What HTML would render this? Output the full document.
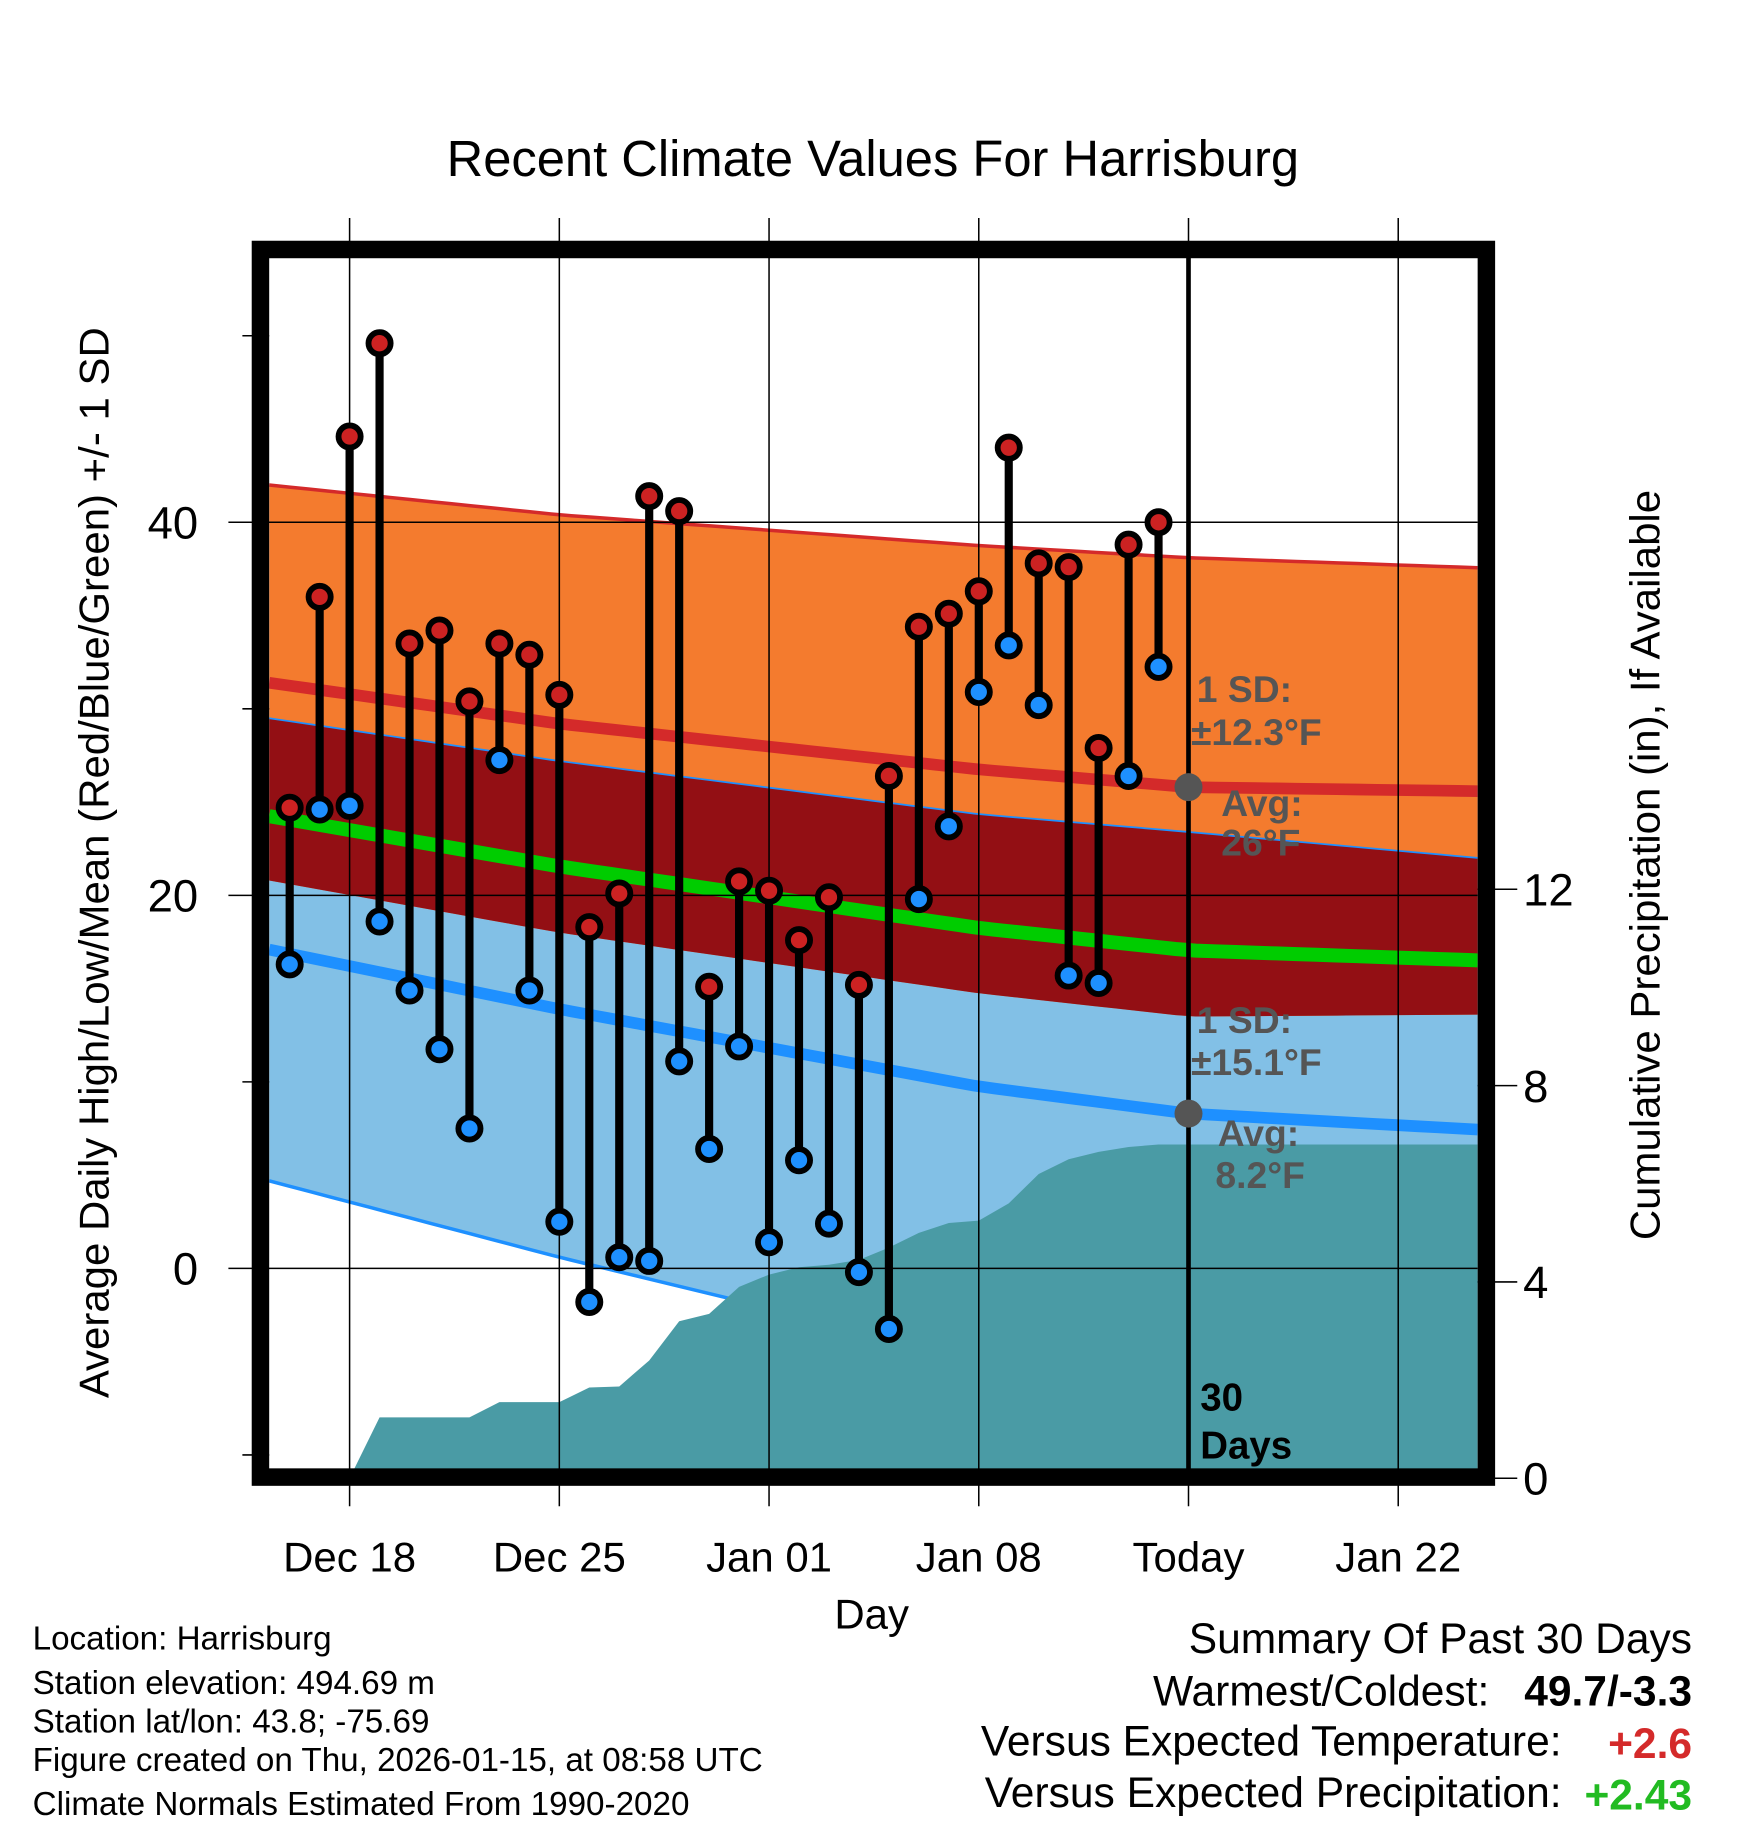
<!DOCTYPE html>
<html><head><meta charset="utf-8"><style>
html,body{margin:0;padding:0;background:#fff;}
svg{display:block;font-family:"Liberation Sans",Arial,sans-serif;}
</style></head><body>
<svg id="chart" width="1748" height="1828" viewBox="0 0 1500 1568" preserveAspectRatio="none" xmlns="http://www.w3.org/2000/svg">
<text x="749" y="151" font-size="43.5" text-anchor="middle">Recent Climate Values For Harrisburg</text>
<g id="layers"></g>
<text transform="translate(93,740) rotate(-90)" font-size="36" text-anchor="middle">Average Daily High/Low/Mean (Red/Blue/Green) +/- 1 SD</text>
<text transform="translate(1424,742) rotate(-90)" font-size="36" text-anchor="middle">Cumulative Precipitation (in), If Available</text>
<text x="748" y="1397" font-size="36" text-anchor="middle">Day</text>
<g font-size="28.5">
<text x="28" y="1415">Location: Harrisburg</text>
<text x="28" y="1453">Station elevation: 494.69 m</text>
<text x="28" y="1486">Station lat/lon: 43.8; -75.69</text>
<text x="28" y="1519">Figure created on Thu, 2026-01-15, at 08:58 UTC</text>
<text x="28" y="1557">Climate Normals Estimated From 1990-2020</text>
</g>
<g font-size="36.5">
<text x="1452" y="1418" text-anchor="end">Summary Of Past 30 Days</text>
<text x="1278" y="1463" text-anchor="end">Warmest/Coldest:</text>
<text x="1452" y="1463" text-anchor="end" font-weight="bold">49.7/-3.3</text>
<text x="1340" y="1506" text-anchor="end">Versus Expected Temperature:</text>
<text x="1452" y="1508" text-anchor="end" font-weight="bold" fill="#d42a2a">+2.6</text>
<text x="1340" y="1550" text-anchor="end">Versus Expected Precipitation:</text>
<text x="1452" y="1552" text-anchor="end" font-weight="bold" fill="#22bb22">+2.43</text>
</g>
</svg>
<script>
// ---- data ----
const xLabels = ["Dec 18","Dec 25","Jan 01","Jan 08","Today","Jan 22"];
const xLabelDays = [0,7,14,21,28,35];
const obsDays = [-2,-1,0,1,2,3,4,5,6,7,8,9,10,11,12,13,14,15,16,17,18,19,20,21,22,23,24,25,26,27];
const highs = [24.7,36.0,44.6,49.6,33.5,34.2,30.4,33.5,32.9,30.75,18.3,20.1,41.4,40.6,15.1,20.75,20.25,17.6,19.9,15.2,26.4,34.4,35.1,36.3,44.0,37.8,37.6,27.9,38.8,40.0];
const lows = [16.3,24.6,24.8,18.6,14.9,11.75,7.5,27.25,14.9,2.5,-1.8,0.6,0.4,11.1,6.4,11.9,1.4,5.8,2.4,-0.2,-3.25,19.8,23.7,30.9,33.4,30.2,15.7,15.3,26.4,32.25];
const normDays = [-2.7,7,21,28,37];
const highMean = [31.4,29.2,26.75,25.8,25.6];
const highSD = [10.6,11.2,12.0,12.3,12.0];
const lowMean = [17.1,13.9,9.75,8.3,7.5];
const lowSD = [12.4,13.3,14.6,15.1,14.6];
const precipDays = [0,1,2,3,4,5,6,7,8,9,10,11,12,13,14,15,16,17,18,19,20,21,22,23,24,25,26,27];
const precip = [0,1.24,1.24,1.24,1.24,1.55,1.55,1.55,1.85,1.87,2.4,3.2,3.35,3.9,4.15,4.3,4.35,4.45,4.7,5.0,5.2,5.25,5.6,6.2,6.5,6.65,6.75,6.8];
const yTicks = [0,20,40];
const yMinor = [-10,10,30,50];
const y2Ticks = [0,4,8,12];

// ---- axes ----
const L=231,R=1268,T=221,B=1260;
const xs = d => 300 + d*25.71;
const ys = t => 1088 - t*16;
const ys2 = p => 1268 - p*42.1;
const xMin = (L-300)/25.71, xMax = (R-300)/25.71;
const NS="http://www.w3.org/2000/svg";
const root=document.getElementById('layers');
function mk(tag,attrs,parent){const e=document.createElementNS(NS,tag);for(const k in attrs)e.setAttribute(k,attrs[k]);(parent||root).appendChild(e);return e;}
function interp(arr,d){for(let i=0;i<normDays.length-1;i++){if(d<=normDays[i+1]||i===normDays.length-2){const f=(d-normDays[i])/(normDays[i+1]-normDays[i]);return arr[i]+f*(arr[i+1]-arr[i]);}}}
const samp=[];for(let i=0;i<=60;i++)samp.push(xMin+(xMax-xMin)*i/60);
const hm=d=>interp(highMean,d),hs=d=>interp(highSD,d),lm=d=>interp(lowMean,d),ls=d=>interp(lowSD,d);
function band(fu,fl){let p=samp.map(d=>xs(d)+','+ys(fu(d)));p=p.concat(samp.slice().reverse().map(d=>xs(d)+','+ys(fl(d))));return p.join(' ');}
function line(f){return samp.map(d=>xs(d)+','+ys(f(d))).join(' ');}

const defs=mk('defs',{});const cp=mk('clipPath',{id:'clip'},defs);mk('rect',{x:L,y:T,width:R-L,height:B-T},cp);
const plot=mk('g',{'clip-path':'url(#clip)'});

let e;
e=mk('polygon',{points:band(d=>lm(d)+ls(d),d=>lm(d)-ls(d)),fill:'#82c0e6'},plot);


e=mk('polygon',{points:band(d=>hm(d)+hs(d),d=>hm(d)-hs(d)),fill:'#f47b2e'},plot);


e=mk('polygon',{points:band(d=>lm(d)+ls(d),d=>hm(d)-hs(d)),fill:'#930f14'},plot);



// grid
xLabelDays.forEach(d=>{const g=mk('line',{x1:xs(d),x2:xs(d),y1:187,y2:1292,stroke:'#000','stroke-width':1.3});

});
yTicks.forEach(t=>{const g=mk('line',{x1:196,x2:R,y1:ys(t),y2:ys(t),stroke:'#000','stroke-width':1.3});

});
yMinor.forEach(t=>{const g=mk('line',{x1:208,x2:L,y1:ys(t),y2:ys(t),stroke:'#000','stroke-width':1.3});

});
y2Ticks.forEach(p=>{const g=mk('line',{x1:R,x2:1302,y1:ys2(p),y2:ys2(p),stroke:'#000','stroke-width':1.3});

});

// lines
const lineSpecs=[[d=>hm(d)+hs(d),'#d42a2a',3,'high-upper-line'],[hm,'#d42a2a',10,'high-mean-line'],[d=>lm(d)+ls(d),'#1e90ff',1.5,'low-upper-line'],[d=>(hm(d)+lm(d))/2,'#00cc00',12,'mean-line'],[lm,'#1e90ff',10,'low-mean-line'],[d=>lm(d)-ls(d),'#1e90ff',3,'low-lower-line']];
lineSpecs.forEach(s=>{const l=mk('polyline',{points:line(s[0]),fill:'none',stroke:s[1],'stroke-width':s[2]},plot);

});

// precip
let pp=precipDays.map((d,i)=>xs(d)+','+ys2(precip[i]));
pp.push(R+','+ys2(precip[precip.length-1]));pp.push(R+','+B);pp.push(xs(precipDays[0])+','+B);
e=mk('polygon',{points:pp.join(' '),fill:'#4a9ba5'},plot);



// today line
e=mk('line',{x1:xs(28),x2:xs(28),y1:T,y2:B,stroke:'#000','stroke-width':4});



// annotations
const ann=mk('g',{fill:'#555','font-weight':'bold','font-size':32});


[['1 SD:',1027,602],['\u00b112.3\u00b0F',1022,639],['Avg:',1048,700],['26\u00b0F',1048,734],['1 SD:',1027,886],['\u00b115.1\u00b0F',1022,922],['Avg:',1045,983],['8.2\u00b0F',1043,1019]].forEach(a=>{const t=mk('text',{x:a[1],y:a[2]},ann);t.textContent=a[0];});
e=mk('circle',{cx:xs(28),cy:ys(hm(28)),r:12,fill:'#555'});


e=mk('circle',{cx:xs(28),cy:ys(lm(28)),r:12,fill:'#555'});


const dt=mk('g',{fill:'#000','font-weight':'bold','font-size':33});


mk('text',{x:1030,y:1210},dt).textContent='30';
mk('text',{x:1030,y:1251},dt).textContent='Days';

// bars & points
obsDays.forEach((d,i)=>{
 const b=mk('line',{x1:xs(d),x2:xs(d),y1:ys(highs[i]),y2:ys(lows[i]),stroke:'#000','stroke-width':7});
 
 
});
obsDays.forEach((d,i)=>{
 const h=mk('circle',{cx:xs(d),cy:ys(highs[i]),r:9.5,fill:'#cc2222',stroke:'#000','stroke-width':5});
 
 
 const l=mk('circle',{cx:xs(d),cy:ys(lows[i]),r:9.5,fill:'#1e90ff',stroke:'#000','stroke-width':5});
 
 
});

// frame
e=mk('rect',{x:223.5,y:214,width:1052,height:1053,fill:'none',stroke:'#000','stroke-width':15});



// tick labels
xLabels.forEach((s,i)=>{const t=mk('text',{x:xs(xLabelDays[i]),y:1348,'font-size':36,'text-anchor':'middle'});t.textContent=s;

});
yTicks.forEach(v=>{const t=mk('text',{x:170,y:ys(v)+14,'font-size':39,'text-anchor':'end'});t.textContent=v;

});
y2Ticks.forEach(v=>{const t=mk('text',{x:1307,y:ys2(v)+14,'font-size':39});t.textContent=v;

});
</script>
</body></html>
